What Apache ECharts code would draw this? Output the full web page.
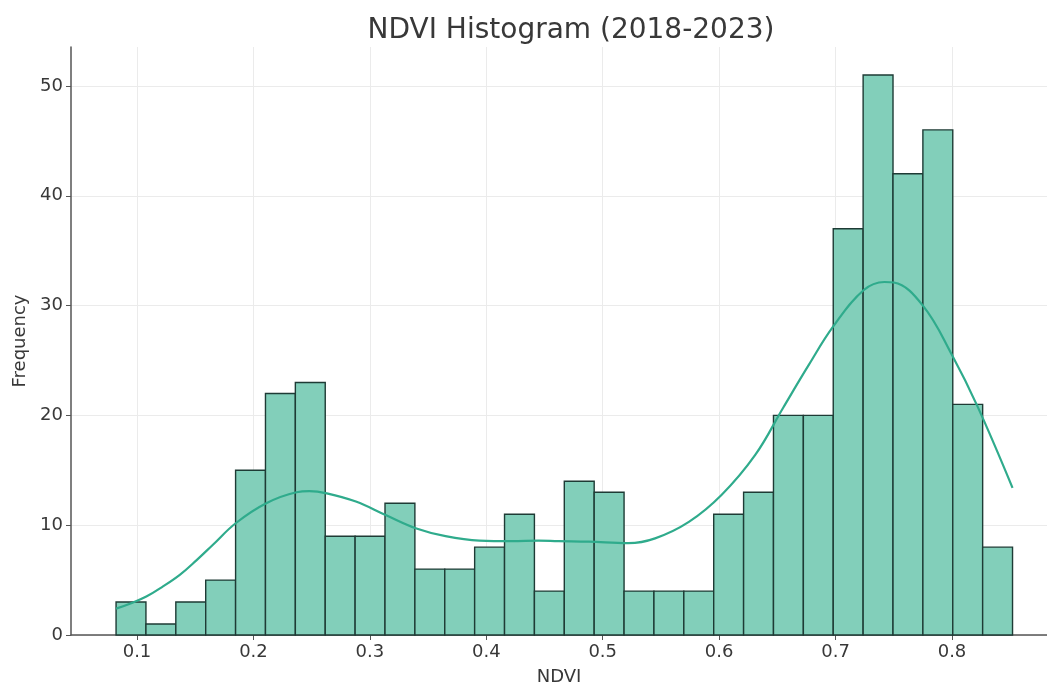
<!DOCTYPE html>
<html>
<head>
<meta charset="utf-8">
<script src="https://cdn.jsdelivr.net/npm/echarts@6/dist/echarts.min.js"></script>
<style>
html,body{margin:0;padding:0;background:#fff;}
#chart{width:1047px;height:691px;}
</style>
</head>
<body>
<div id="chart"></div>
<script>
// Histogram definition
const binMin = 0.082;
const binMax = 0.852;
const counts = [3,1,3,5,15,22,23,9,9,12,6,6,8,11,4,14,13,4,4,4,11,13,20,20,37,51,42,46,21,8];
// KDE curve (scaled to counts)
const kdeX = [0.082,0.095,0.108,0.122,0.137,0.151,0.165,0.185,0.211,0.237,0.248,0.263,0.288,0.314,0.340,0.365,0.394,0.422,0.445,0.462,0.488,0.522,0.545,0.574,0.602,0.631,0.655,0.677,0.698,0.724,0.742,0.750,0.775,0.800,0.822,0.852];
const kdeY = [2.4,2.9,3.5,4.4,5.5,6.8,8.2,10.2,12.0,13.0,13.1,12.9,12.15,10.9,9.7,9.0,8.6,8.55,8.6,8.55,8.5,8.36,8.8,10.3,12.75,16.4,20.7,24.6,28.1,31.4,32.15,32.1,30.0,25.5,20.8,13.4];
const xTicks = [0.1,0.2,0.3,0.4,0.5,0.6,0.7,0.8];
const yTicks = [0,10,20,30,40,50];

const nb = counts.length;
const bw = (binMax - binMin) / nb;
const barData = counts.map((c, i) => [binMin + i * bw, binMin + (i + 1) * bw, c]);
const kdeData = kdeX.map((x, i) => [x, kdeY[i]]);

const font = 'DejaVu Sans';
const txt = '#383838';
const chart = echarts.init(document.getElementById('chart'));
chart.setOption({
  animation: false,
  title: {
    text: 'NDVI Histogram (2018-2023)',
    left: 566, top: 12, textAlign: 'center',
    textStyle: {fontFamily: font, fontSize: 28, fontWeight: 'normal', color: txt}
  },
  grid: {left: 71, right: 0, top: 47, bottom: 54, containLabel: false},
  xAxis: {
    type: 'value', min: 0.0433, max: 0.8816,
    name: 'NDVI', nameLocation: 'middle', nameGap: 33,
    nameTextStyle: {fontFamily: font, fontSize: 18, color: txt},
    axisLine: {show: true, onZero: false, lineStyle: {color: '#555', width: 1.5}},
    axisTick: {show: true, length: 5, customValues: xTicks, lineStyle: {color: '#555'}},
    axisLabel: {customValues: xTicks, fontFamily: font, fontSize: 18, color: txt, margin: 8,
      formatter: v => v.toFixed(1)},
    splitLine: {show: true, lineStyle: {color: '#ebebeb', width: 1}}
  },
  yAxis: {
    type: 'value', min: 0, max: 53.55,
    name: 'Frequency', nameLocation: 'middle', nameGap: 41, nameRotate: 90,
    nameTextStyle: {fontFamily: font, fontSize: 18, color: txt},
    axisLine: {show: true, lineStyle: {color: '#555', width: 1.5}},
    axisTick: {show: true, length: 5, customValues: yTicks, lineStyle: {color: '#555'}},
    axisLabel: {customValues: yTicks, fontFamily: font, fontSize: 18, color: txt, margin: 8},
    splitLine: {show: true, lineStyle: {color: '#ebebeb', width: 1}}
  },
  series: [
    {
      type: 'custom',
      data: barData,
      encode: {x: [0, 1], y: 2},
      renderItem: function (params, api) {
        const p0 = api.coord([api.value(0), api.value(2)]);
        const p1 = api.coord([api.value(1), 0]);
        return {
          type: 'rect',
          shape: {x: p0[0], y: p0[1], width: p1[0] - p0[0], height: p1[1] - p0[1]},
          style: {fill: '#82cfba', stroke: '#1e3b35', lineWidth: 1.4}
        };
      },
      z: 2
    },
    {
      type: 'line',
      data: kdeData,
      smooth: 0.4,
      showSymbol: false,
      lineStyle: {color: '#2fab8c', width: 2.2},
      z: 3
    }
  ]
});
</script>
</body>
</html>
